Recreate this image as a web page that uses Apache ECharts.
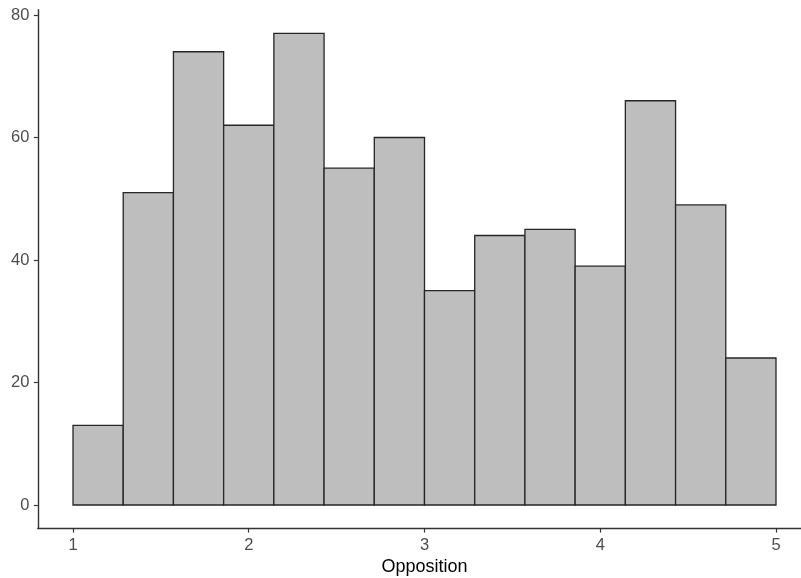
<!DOCTYPE html>
<html>
<head>
<meta charset="utf-8">
<script src="https://cdn.jsdelivr.net/npm/echarts@6/dist/echarts.min.js"></script>
<style>
html,body{margin:0;padding:0;background:#fff;}
#chart{width:801px;height:578px;}
</style>
</head>
<body>
<div id="chart"></div>
<script>
// Histogram of Opposition: 14 bins from 1 to 5
const binStart = 1;
const binEnd = 5;
const counts = [13, 51, 74, 62, 77, 55, 60, 35, 44, 45, 39, 66, 49, 24];
const xTicks = [1, 2, 3, 4, 5];
const yTicks = [0, 20, 40, 60, 80];
const xTitle = 'Opposition';

const nBins = counts.length;
const binW = (binEnd - binStart) / nBins;
const histData = counts.map((c, i) => [binStart + i * binW, binStart + (i + 1) * binW, c]);

const chart = echarts.init(document.getElementById('chart'), null, {renderer: 'canvas'});
const font = 'Liberation Sans, Arial, Helvetica, sans-serif';
chart.setOption({
  animation: false,
  backgroundColor: '#ffffff',
  grid: {left: 37.85, right: -10.15, top: 9.8, bottom: 49.4, containLabel: false, outerBoundsMode: 'none'},
  xAxis: {
    type: 'value',
    min: 0.8, max: 5.2,
    name: xTitle,
    nameLocation: 'middle',
    nameGap: 27.5,
    nameTextStyle: {color: '#000', fontSize: 18, fontFamily: font},
    splitLine: {show: false},
    axisLine: {onZero: false, lineStyle: {color: '#333', width: 1.4}},
    axisTick: {show: true, length: 4, lineStyle: {color: '#333', width: 1.2}, customValues: xTicks},
    axisLabel: {color: '#4d4d4d', fontSize: 16.5, fontFamily: font, margin: 8, customValues: xTicks}
  },
  yAxis: {
    type: 'value',
    min: -3.85, max: 80.85,
    splitLine: {show: false},
    axisLine: {show: true, onZero: false, lineStyle: {color: '#333', width: 1.4}},
    axisTick: {show: true, length: 4, lineStyle: {color: '#333', width: 1.2}, customValues: yTicks},
    axisLabel: {color: '#4d4d4d', fontSize: 16.5, fontFamily: font, margin: 8.5, customValues: yTicks}
  },
  series: [{
    type: 'custom',
    data: histData,
    encode: {x: [0, 1], y: 2},
    renderItem: function (params, api) {
      const p0 = api.coord([api.value(0), api.value(2)]);
      const p1 = api.coord([api.value(1), 0]);
      return {
        type: 'rect',
        shape: {x: p0[0], y: p0[1], width: p1[0] - p0[0], height: p1[1] - p0[1]},
        style: {fill: '#bebebe', stroke: '#262626', lineWidth: 1.3}
      };
    }
  }]
});
</script>
</body>
</html>
